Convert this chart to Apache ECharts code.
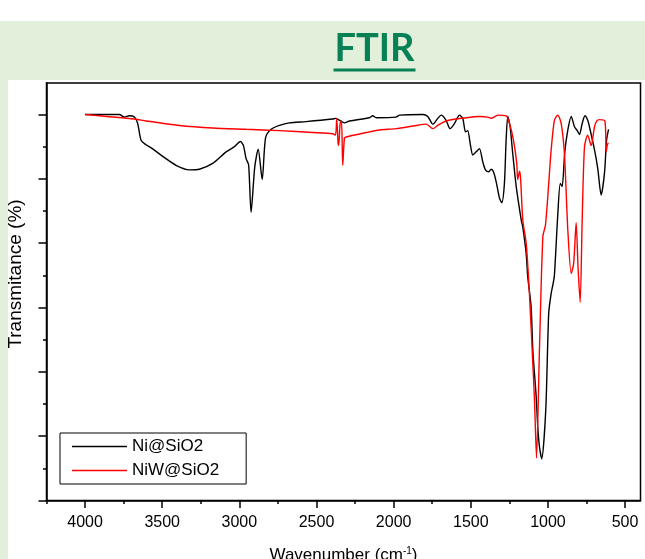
<!DOCTYPE html>
<html>
<head>
<meta charset="utf-8">
<script src="https://cdn.jsdelivr.net/npm/echarts@6/dist/echarts.min.js"></script>
<style>
  html, body { margin: 0; padding: 0; background: #ffffff; }
  #wrap { position: relative; width: 645px; height: 559px; overflow: hidden; background: #ffffff; }
  #band { position: absolute; left: 0; top: 21px; width: 645px; height: 538px; background: #e2efda; }
  #panel { position: absolute; left: 8px; top: 80px; width: 637px; height: 479px; background: #ffffff; }
  #chart { position: absolute; left: 0; top: 0; width: 645px; height: 559px; }
</style>
</head>
<body>
<div id="wrap">
  <div id="band"></div>
  <div id="panel"></div>
  <div id="chart"></div>
</div>
<script>
// ---- data ----
const niWavenumber = [4000,3778,3745,3713,3680,3659,3637,3605,3564,3497,3410,3324,3259,3173,3086,3032,2993,2974,2956,2940,2924,2900,2878,2852,2830,2794,2740,2676,2567,2395,2377,2351,2319,2286,2157,2135,2113,1984,1962,1811,1779,1746,1714,1692,1660,1634,1606,1573,1552,1534,1520,1502,1487,1465,1444,1422,1405,1383,1368,1353,1335,1314,1299,1282,1271,1260,1245,1228,1206,1173,1163,1141,1131,1109,1098,1076,1066,1055,1040,1014,995,979,968,958,936,920,908,891,871,849,828,810,795,779,760,742,731,698,677,655,633,620,607];
const niTransmittance = [60.0,60.0,59.6,59.8,59.6,58.6,56.0,55.3,54.7,53.5,52.1,51.4,51.5,52.4,54.2,55.0,55.8,55.2,53.1,52.2,44.8,51.9,54.6,49.9,56.4,57.7,58.3,58.7,58.9,59.3,59.4,59.1,58.7,59.0,59.5,59.8,59.5,59.6,59.9,60.0,59.7,58.5,59.4,59.9,59.1,57.8,58.6,59.9,59.4,57.3,57.5,55.2,53.7,54.2,54.7,52.6,51.4,51.1,51.5,51.1,49.5,47.0,46.3,49.3,56.0,59.7,58.1,53.9,48.9,43.6,42.5,38.4,34.8,30.1,23.4,16.1,11.5,8.4,6.5,14.1,29.1,32.2,33.5,35.0,44.5,49.3,48.8,54.1,57.6,59.7,58.1,57.5,56.9,58.5,59.8,59.1,58.1,54.5,51.6,47.5,51.0,56.0,57.7];

const niwWavenumber = [4000,3680,3605,3389,3173,2956,2740,2524,2395,2377,2369,2360,2356,2347,2338,2330,2319,2308,2178,2092,1984,1854,1789,1746,1714,1660,1530,1444,1390,1368,1325,1271,1249,1223,1202,1196,1184,1177,1163,1141,1120,1098,1087,1074,1055,1033,1016,1001,979,958,936,914,893,871,849,833,817,805,791,778,763,742,720,698,683,666,631,622,612,606];
const niwTransmittance = [60.0,59.3,59.0,58.3,57.9,57.7,57.5,57.2,57.0,56.8,59.4,55.5,55.2,58.6,59.0,52.1,56.3,56.5,57.2,57.6,57.8,58.3,58.5,57.8,58.3,59.0,59.5,59.7,59.6,59.4,59.9,59.8,58.6,56.0,52.4,49.9,51.2,50.0,43.6,40.0,32.2,21.3,15.6,6.6,23.4,41.0,42.8,47.2,54.5,59.1,59.9,58.6,53.9,42.0,35.3,36.9,43.2,36.3,30.8,43.6,55.0,56.8,55.2,58.1,59.0,59.2,59.0,54.2,55.5,55.5];

const seriesNames = ['Ni@SiO2', 'NiW@SiO2'];
const xMajorTicks = [500,1000,1500,2000,2500,3000,3500,4000];
const xMinorTicks = [750,1250,1750,2250,2750,3250,3750,4250];
const yMajorTicks = [0,10,20,30,40,50,60];
const yMinorTicks = [5,15,25,35,45,55];
const xRange = [400, 4250];
const yRange = [0, 64.9];

function pairs(xs, ys) { return xs.map((x, i) => [x, ys[i]]); }

const chart = echarts.init(document.getElementById('chart'), null, { renderer: 'canvas' });
const FONT = 'Liberation Sans';
const GREEN = '#068155';

const xCommon = { type: 'value', min: xRange[0], max: xRange[1], inverse: true, position: 'bottom', splitLine: { show: false } };
const yCommon = { type: 'value', min: yRange[0], max: yRange[1], position: 'left', splitLine: { show: false } };

chart.setOption({
  animation: false,
  backgroundColor: 'transparent',
  grid: { left: 46.5, right: 4.5, top: 83, bottom: 58.5, show: true, borderColor: '#000', borderWidth: 1.5,
          backgroundColor: 'transparent', containLabel: false, outerBoundsMode: 'none' },
  xAxis: [
    Object.assign({}, xCommon, {
      axisLine: { show: true, lineStyle: { color: '#000', width: 1.5 } },
      axisTick: { show: true, customValues: xMajorTicks, length: 7.5, lineStyle: { color: '#000', width: 1.5 } },
      axisLabel: { show: true, customValues: xMajorTicks, color: '#000', fontSize: 16, fontFamily: FONT, margin: 14,
                   formatter: v => String(v) },
      name: 'Wavenumber (cm{sup|-1})',
      nameLocation: 'middle',
      nameGap: 46,
      nameTextStyle: { color: '#000', fontSize: 17, fontFamily: FONT, rich: { sup: { fontSize: 10, fontFamily: FONT, color: '#000', verticalAlign: 'top' } } }
    }),
    Object.assign({}, xCommon, {
      axisLine: { show: false },
      axisTick: { show: true, customValues: xMinorTicks, length: 3.5, lineStyle: { color: '#000', width: 1.5 } },
      axisLabel: { show: false }
    })
  ],
  yAxis: [
    Object.assign({}, yCommon, {
      axisLine: { show: true, lineStyle: { color: '#000', width: 1.5 } },
      axisTick: { show: true, customValues: yMajorTicks, length: 8, lineStyle: { color: '#000', width: 1.5 } },
      axisLabel: { show: false }
    }),
    Object.assign({}, yCommon, {
      axisLine: { show: false },
      axisTick: { show: true, customValues: yMinorTicks, length: 3.5, lineStyle: { color: '#000', width: 1.5 } },
      axisLabel: { show: false }
    })
  ],
  legend: {
    left: 60, top: 433, orient: 'vertical',
    icon: 'rect', itemWidth: 55, itemHeight: 1.5, itemGap: 7,
    padding: [5, 27, 5, 12],
    borderColor: '#000', borderWidth: 1, backgroundColor: '#fff',
    textStyle: { fontSize: 17, fontFamily: FONT, color: '#000' },
    data: seriesNames
  },
  graphic: [
    { type: 'text', x: 374.5, y: 49, z: 100,
      style: { text: 'FTIR', fill: GREEN, fontSize: 38, fontWeight: 'bold', fontFamily: 'Lato',
               align: 'center', verticalAlign: 'middle', textAlign: 'center', textVerticalAlign: 'middle' } },
    { type: 'rect', z: 100, shape: { x: 333.5, y: 68.5, width: 82, height: 3 }, style: { fill: GREEN } },
    { type: 'text', x: 15.5, y: 274, rotation: Math.PI / 2, z: 100,
      style: { text: 'Transmitance (%)', fill: '#000', fontSize: 19, fontFamily: FONT,
               align: 'center', verticalAlign: 'middle', textAlign: 'center', textVerticalAlign: 'middle' } }
  ],
  series: [
    { name: seriesNames[0], type: 'line', xAxisIndex: 0, yAxisIndex: 0, data: pairs(niWavenumber, niTransmittance),
      showSymbol: false, smooth: 0.25, lineStyle: { color: '#000000', width: 1.4 }, itemStyle: { color: '#000000' }, z: 3 },
    { name: seriesNames[1], type: 'line', xAxisIndex: 0, yAxisIndex: 0, data: pairs(niwWavenumber, niwTransmittance),
      showSymbol: false, smooth: 0.25, lineStyle: { color: '#ff0000', width: 1.4 }, itemStyle: { color: '#ff0000' }, z: 4 }
  ]
});
</script>
</body>
</html>
